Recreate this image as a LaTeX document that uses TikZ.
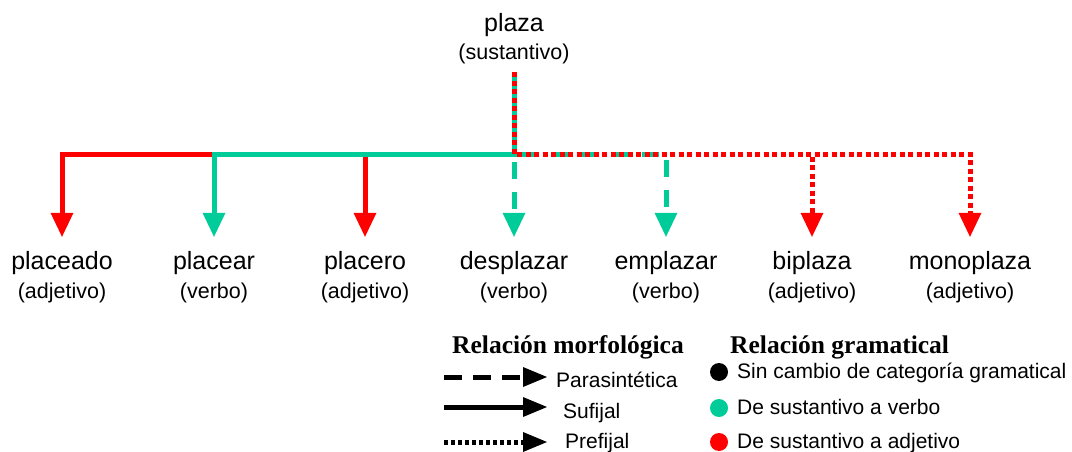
\documentclass[tikz,border=0pt]{standalone}
\usepackage{fontspec}
\setmainfont{Liberation Sans}
\newfontfamily\headfont{Liberation Serif}
\usetikzlibrary{arrows.meta}
\definecolor{vgreen}{RGB}{0,204,153}
\definecolor{vred}{RGB}{255,0,0}
\begin{document}
\begin{tikzpicture}[x=1pt,y=-1pt,
  word/.style={font=\fontsize{25}{30}\selectfont, inner sep=0pt, anchor=base, text height=18pt, text depth=0pt},
  cat/.style={font=\fontsize{21.5}{26}\selectfont, inner sep=0pt, anchor=base},
  head/.style={font=\headfont\bfseries\fontsize{25.5}{30}\selectfont, inner sep=0pt, anchor=base west},
  legtext/.style={font=\fontsize{21}{25}\selectfont, inner sep=0pt, anchor=base west},
  dotmark/.style={circle, inner sep=0pt, minimum size=18pt},
  conn/.style={line width=5pt, shorten <=7pt, shorten >=14pt, -{Triangle[length=24pt,width=23pt,line width=0pt]}},
  legarrow/.style={line width=5pt, -{Triangle[length=24pt,width=20pt,line width=0pt]}},
  solidred/.style={conn, draw=vred},
  solidgreen/.style={conn, draw=vgreen},
  dashgreen/.style={conn, draw=vgreen, dash pattern=on 17pt off 13pt},
  dotred/.style={conn, draw=vred, dash pattern=on 5pt off 3.5pt}]
\useasboundingbox (0,0) rectangle (1072,452);

% root
\node[word] (plaza) at (514,32) {plaza};
\node[cat, text depth=5pt] (plazacat) at (514,60) {(sustantivo)};
\coordinate (J) at (514,154);

% derived words
\node[word] (w1) at (62,269) {placeado};
\node[cat] (c1) at (62,298) {(adjetivo)};
\node[word] (w2) at (214,269) {placear};
\node[cat] (c2) at (214,298) {(verbo)};
\node[word] (w3) at (365,269) {placero};
\node[cat] (c3) at (365,298) {(adjetivo)};
\node[word] (w4) at (514,269) {desplazar};
\node[cat] (c4) at (514,298) {(verbo)};
\node[word] (w5) at (666,269) {emplazar};
\node[cat] (c5) at (666,298) {(verbo)};
\node[word] (w6) at (812,269) {biplaza};
\node[cat] (c6) at (812,298) {(adjetivo)};
\node[word] (w7) at (970,269) {monoplaza};
\node[cat] (c7) at (970,298) {(adjetivo)};

% connectors
\draw[solidred] (plazacat.south) -- (J) -| (w1.north);
\draw[solidred] (plazacat.south) -- (J) -| (w3.north);
\draw[solidgreen] (plazacat.south) -- (J) -| (w2.north);
\draw[dashgreen] (plazacat.south) -- (w4.north);
\draw[dashgreen] (plazacat.south) -- (J) -| (w5.north);
\draw[dotred] (plazacat.south) -- (J) -| (w6.north);
\draw[dotred] (plazacat.south) -- (J) -| (w7.north);

% legend: morphological relation
\node[head] (hm) at (452,353) {Relación morfológica};
\node[head] (hg) at (730,353) {Relación gramatical};

\coordinate (pa1) at (444,377); \coordinate (pa2) at (547,377);
\coordinate (sa1) at (444,407); \coordinate (sa2) at (547,407);
\coordinate (ra1) at (444,442); \coordinate (ra2) at (547,442);
\draw[legarrow, dash pattern=on 18pt off 11pt] (pa1) -- (pa2);
\draw[legarrow] (sa1) -- (sa2);
\draw[legarrow, dash pattern=on 4pt off 3pt] (ra1) -- (ra2);
\node[legtext] (lp) at (556,387) {Parasintética};
\node[legtext] (ls) at (563,418) {Sufijal};
\node[legtext] (lr) at (565,448) {Prefijal};

% legend: grammatical relation
\node[dotmark, fill=black] (d1) at (719,372) {};
\node[dotmark, fill=vgreen] (d2) at (719,408) {};
\node[dotmark, fill=vred] (d3) at (719,442) {};
\node[legtext] (g1) at (737,378) {Sin cambio de categoría gramatical};
\node[legtext] (g2) at (737,414) {De sustantivo a verbo};
\node[legtext] (g3) at (737,448) {De sustantivo a adjetivo};
\end{tikzpicture}
\end{document}
